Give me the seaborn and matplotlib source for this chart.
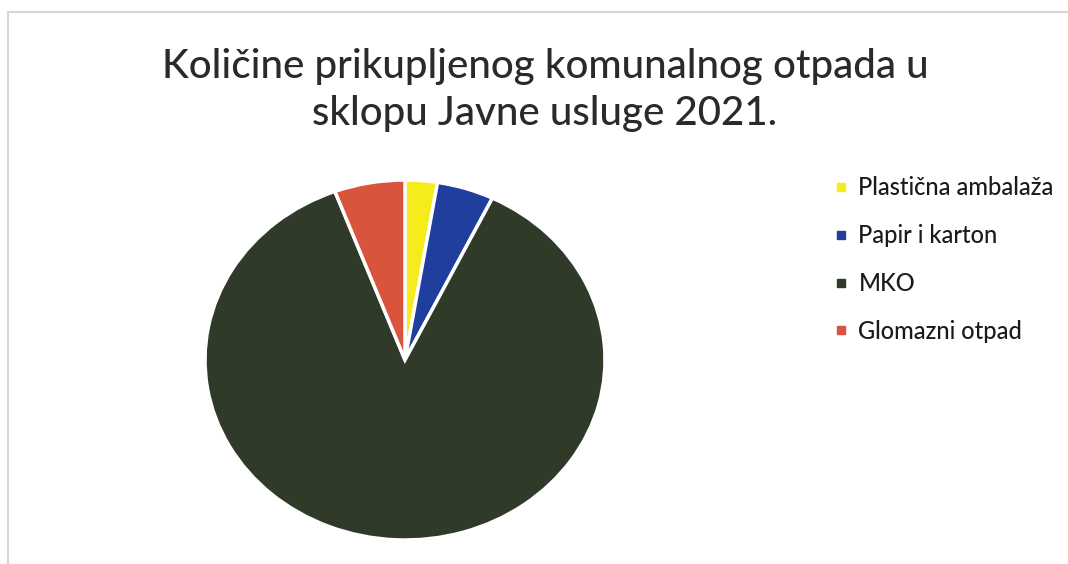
import matplotlib.pyplot as plt
import seaborn as sns
from matplotlib.lines import Line2D

sns.set_theme(style="white")
plt.rcParams['font.family'] = ['Lato', 'DejaVu Sans']

# Data (share of collected waste, %)
categories = ['Plastična ambalaža', 'Papir i karton', 'MKO', 'Glomazni otpad']
shares = [2.6, 4.6, 87.1, 5.7]
colors = ['#F7EC1B', '#1F3E9E', '#2F3A29', '#D8543C']
title = "Količine prikupljenog komunalnog otpada u\nsklopu Javne usluge 2021."

fig = plt.figure(figsize=(10.68, 5.64), dpi=100)

# light frame of the original chart area (top and left edges)
fig.add_artist(Line2D([8 / 1068, 1.0], [1 - 12 / 564, 1 - 12 / 564],
                      color='#d6d6d6', lw=1.5))
fig.add_artist(Line2D([8 / 1068, 8 / 1068], [0, 1 - 12 / 564],
                      color='#d6d6d6', lw=1.5))

# pie axes, slightly squashed like the scanned original
ax = fig.add_axes([205 / 1068, 24 / 564, 400 / 1068, 360 / 564])
wedges, _ = ax.pie(shares, colors=colors, startangle=90, counterclock=False,
                   wedgeprops=dict(edgecolor='white', linewidth=2.5))
ax.set_aspect('auto')
ax.set_xlim(-1.0, 1.0)
ax.set_ylim(-1.0, 1.0)
ax.axis('off')

fig.text(545 / 1068, 1 - 90 / 564, title, ha='center', va='center',
         fontsize=29, fontweight='medium', color='#2a2a2a', linespacing=1.32)

handles = [Line2D([0], [0], marker='s', linestyle='none', markersize=6,
                  markerfacecolor=c, markeredgecolor=c) for c in colors]
fig.legend(handles, categories, loc='upper left',
           bbox_to_anchor=(810 / 1068, 1 - 155 / 564), frameon=False,
           prop=dict(size=17, weight='medium'), labelspacing=1.05,
           handletextpad=0.35, handlelength=0.8, labelcolor='#1a1a1a')

plt.savefig("out.png", dpi=100, facecolor='white')
